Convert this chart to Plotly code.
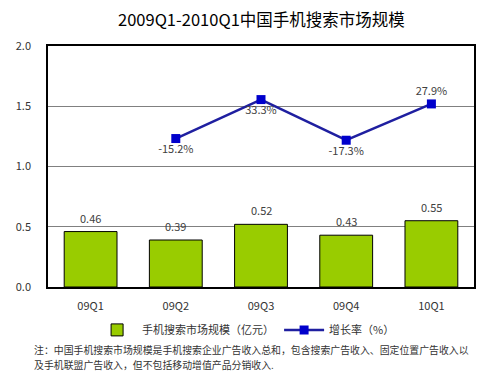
import plotly.graph_objects as go

categories = ["09Q1", "09Q2", "09Q3", "09Q4", "10Q1"]
market_size = [0.46, 0.39, 0.52, 0.43, 0.55]
growth_cats = ["09Q2", "09Q3", "09Q4", "10Q1"]
growth_rate = [-15.2, 33.3, -17.3, 27.9]
growth_pos = ["bottom center", "bottom center", "bottom center", "top center"]

FONT = "Noto Sans CJK SC"

fig = go.Figure()
fig.add_trace(go.Bar(
    x=categories, y=market_size, name="手机搜索市场规模（亿元）",
    marker=dict(color="#99CC00", line=dict(color="#000000", width=1)),
    width=0.62,
))
fig.add_trace(go.Scatter(
    x=growth_cats, y=growth_rate, name="增长率（%）", yaxis="y2",
    mode="lines+markers+text",
    line=dict(color="#1F1FA0", width=2.5),
    marker=dict(symbol="square", size=9, color="#0000CC"),
    text=[f"{v:.1f}%" for v in growth_rate], textposition=growth_pos,
    textfont=dict(size=11, color="#404040"), cliponaxis=False,
))

annotations = [
    dict(x=c, y=v, xref="x", yref="y", text=f"{v:.2f}", showarrow=False,
         yshift=14, yanchor="middle", font=dict(size=11, color="#404040"))
    for c, v in zip(categories, market_size)
]
annotations += [
    dict(text="2009Q1-2010Q1中国手机搜索市场规模", xref="paper", yref="paper",
         x=0.5, y=1.112, xanchor="center", yanchor="middle", showarrow=False,
         font=dict(size=16.5, color="#000000")),
    dict(text="注：中国手机搜索市场规模是手机搜索企业广告收入总和，包含搜索广告收入、固定位置广告收入以",
         xref="paper", yref="paper", x=-0.038, y=-0.262, xanchor="left", yanchor="middle",
         showarrow=False, font=dict(size=9.9, color="#333333")),
    dict(text="及手机联盟广告收入，但不包括移动增值产品分销收入.",
         xref="paper", yref="paper", x=-0.038, y=-0.322, xanchor="left", yanchor="middle",
         showarrow=False, font=dict(size=9.9, color="#333333")),
]

fig.update_layout(
    width=476, height=365,
    margin=dict(l=24, r=8, t=38, b=86),
    paper_bgcolor="white", plot_bgcolor="white",
    font=dict(family=FONT, size=11, color="#333333"),
    xaxis=dict(showline=True, linecolor="#000000", linewidth=1.5, mirror=True,
               ticks="", tickfont=dict(size=11, color="#333333"), ticklabelstandoff=8),
    yaxis=dict(range=[0, 2.0], dtick=0.5, tickformat=".1f", showgrid=True,
               gridcolor="#808080", gridwidth=1, showline=True, linecolor="#000000",
               linewidth=1.5, mirror=True, ticks="", zeroline=False,
               tickfont=dict(size=11, color="#333333"), ticklabelstandoff=13),
    yaxis2=dict(range=[-200, 100], overlaying="y", side="right", visible=False,
                showgrid=False, zeroline=False),
    showlegend=True,
    legend=dict(orientation="h", x=0.465, xanchor="center", y=-0.178, yanchor="middle",
                font=dict(size=11, color="#333333"), itemwidth=40, traceorder="normal"),
    annotations=annotations,
)

fig.write_html("out.html")
